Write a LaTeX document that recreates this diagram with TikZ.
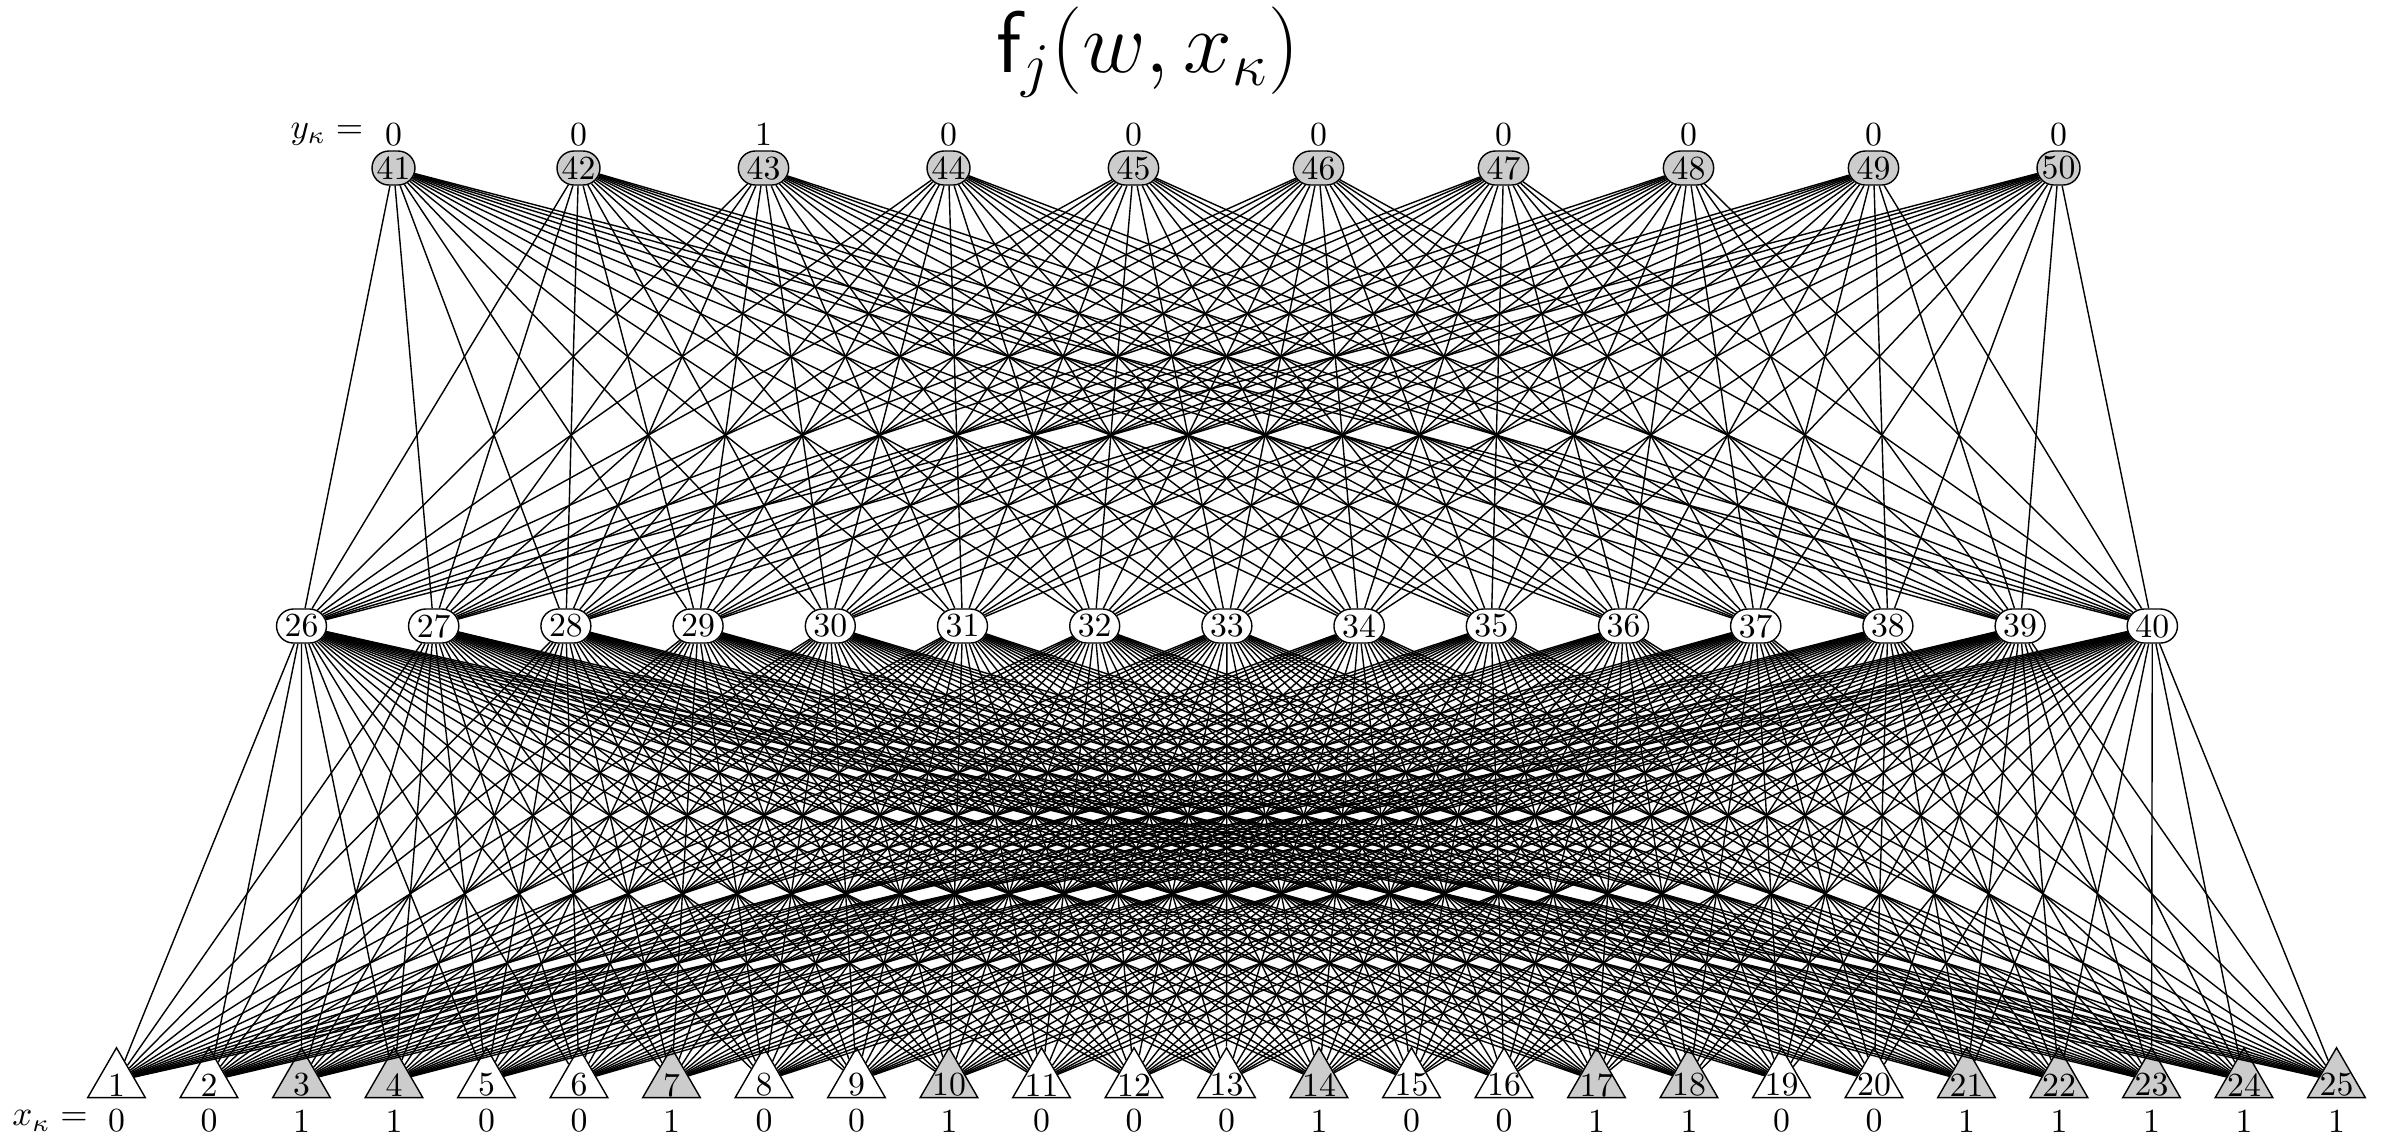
\documentclass[tikz,border=0pt]{standalone}
\usetikzlibrary{shapes.misc,shapes.geometric}
\colorlet{fill0}{white}
\colorlet{fill1}{gray!40}
\begin{document}
\fontsize{9.6}{11.5}\selectfont
\begin{tikzpicture}[x=0.01cm,y=-0.01cm,
  topnode/.style={rounded rectangle, draw, fill=gray!40, minimum width=0.5cm, minimum height=0.34cm, inner xsep=1pt, inner ysep=0.5pt},
  midnode/.style={rounded rectangle, draw, fill=white, minimum width=0.49cm, minimum height=0.34cm, inner xsep=1pt, inner ysep=0.5pt},
  tri/.style={regular polygon, regular polygon sides=3, draw, minimum size=0.665cm, inner sep=0pt},
  lbl/.style={inner sep=0pt},
  conn/.style={line width=0.4pt}]
\useasboundingbox (0,0) rectangle (2381,1135);
\node[anchor=base, inner sep=0pt] (title) at (1148,72) {\fontsize{24.5}{28}\selectfont$\mathsf{f}_j(w, x_\kappa)$};
\node[lbl] (ylab) at (327,134) {$y_\kappa =$};
\node[lbl] (xlab) at (50,1121) {$x_\kappa =$};
% top row
\foreach \i/\v [count=\k from 0] in {41/0,42/0,43/1,44/0,45/0,46/0,47/0,48/0,49/0,50/0} {
  \node[topnode] (n\i) at ({393.5+185*\k},168) {\i};
  \node[lbl] (y\i) at ({393.5+185*\k},134.5) {\v};
}
% middle row
\foreach \i [count=\k from 0] in {26,...,40} {
  \node[midnode] (n\i) at ({301.5+132.2*\k},626) {\i};
}
% bottom row
\foreach \i/\v [count=\k from 0] in {1/0,2/0,3/1,4/1,5/0,6/0,7/1,8/0,9/0,10/1,11/0,12/0,13/0,14/1,15/0,16/0,17/1,18/1,19/0,20/0,21/1,22/1,23/1,24/1,25/1} {
  \node[tri, fill=fill\v] (t\i) at ({116.5+92.5*\k},1081) {};
  \node[lbl] (tl\i) at ({116.5+92.5*\k},1085) {\i};
  \node[lbl] (x\i) at ({116.5+92.5*\k},1121) {\v};
}
% connectors
\foreach \a in {26,...,40} {
  \foreach \b in {41,...,50} {
    \draw[conn] (n\a) -- (n\b);
  }
}
\foreach \a in {1,...,25} {
  \foreach \b in {26,...,40} {
    \draw[conn] (t\a) -- (n\b);
  }
}
\end{tikzpicture}
\end{document}
